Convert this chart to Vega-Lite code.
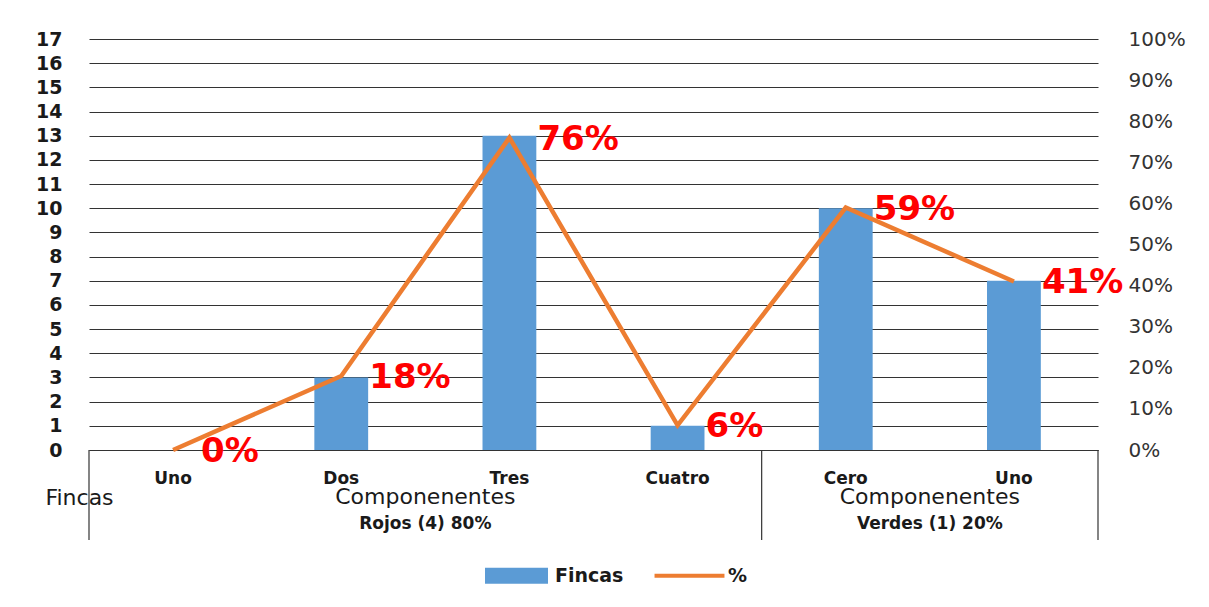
{
  "$schema": "https://vega.github.io/schema/vega-lite/v6.json",
  "width": 1009,
  "height": 411,
  "autosize": {"type": "none"},
  "padding": {"left": 89, "top": 39, "right": 111, "bottom": 157},
  "background": "white",
  "config": {"view": {"stroke": null}, "font": "DejaVu Sans"},
  "datasets": {
    "main": [
      {"cat": "1 Uno", "fincas": 0, "pct": 0},
      {"cat": "2 Dos", "fincas": 3, "pct": 0.18},
      {"cat": "3 Tres", "fincas": 13, "pct": 0.76},
      {"cat": "4 Cuatro", "fincas": 1, "pct": 0.06},
      {"cat": "5 Cero", "fincas": 10, "pct": 0.59},
      {"cat": "6 Uno", "fincas": 7, "pct": 0.41}
    ],
    "groups": [
      {"cat": "3 Tres", "t1": "Componenentes", "t2": "Rojos (4) 80%", "pct": -0.114, "p2": -0.18},
      {"cat": "6 Uno", "t1": "Componenentes", "t2": "Verdes (1) 20%", "pct": -0.114, "p2": -0.18}
    ],
    "divA": [
      {"cat": "1 Uno", "pct": 0, "p2": -0.219},
      {"cat": "5 Cero", "pct": 0, "p2": -0.219}
    ],
    "divB": [
      {"cat": "6 Uno", "pct": 0, "p2": -0.219}
    ]
  },
  "layer": [
    {
      "data": {"name": "main"},
      "mark": {"type": "bar", "width": {"band": 0.32}},
      "encoding": {
        "x": {
          "field": "cat", "type": "nominal",
          "scale": {"domain": ["1 Uno", "2 Dos", "3 Tres", "4 Cuatro", "5 Cero", "6 Uno"], "paddingInner": 0, "paddingOuter": 0},
          "axis": {
            "orient": "bottom", "title": null, "labelExpr": "split(datum.label,' ')[1]",
            "labelAngle": 0, "labelPadding": 20, "labelFontSize": 17, "labelFontWeight": "bold",
            "labelColor": "#1a1a1a", "ticks": false, "grid": false,
            "domainColor": "#333333", "domainWidth": 1.2
          }
        },
        "y": {
          "field": "fincas", "type": "quantitative",
          "scale": {"domain": [0, 17], "nice": false, "zero": false},
          "axis": {
            "orient": "left", "values": [0,1,2,3,4,5,6,7,8,9,10,11,12,13,14,15,16,17],
            "tickCount": 40, "format": "d",
            "labelOverlap": false,
            "grid": true, "gridColor": "#333333", "gridWidth": 1.2,
            "domain": false, "ticks": false, "labelPadding": 27,
            "labelFontSize": 19, "labelFontWeight": "bold", "labelColor": "#1a1a1a",
            "title": "Fincas", "titleAngle": 0, "titleX": -10, "titleY": 458,
            "titleAlign": "center", "titleBaseline": "middle", "titleFontSize": 22,
            "titleFontWeight": "normal", "titleColor": "#1a1a1a"
          }
        },
        "color": {
          "datum": "Fincas",
          "scale": {"domain": ["Fincas", "%"], "range": ["#5B9BD5", "#ED7D31"]},
          "legend": {
            "title": null, "orient": "none", "direction": "horizontal",
            "legendX": 396, "legendY": 505,
            "symbolSize": 3969, "symbolStrokeWidth": 0,
            "labelFontSize": 19, "labelFontWeight": "bold", "labelColor": "#1a1a1a",
            "labelOffset": 7, "columnPadding": 30,
            "encode": {
              "symbols": {
                "update": {
                  "shape": {"signal": "datum.value === 'Fincas' ? 'M-1,-0.254H1V0.254H-1Z' : 'M-1.11,-0.065H1.11V0.065H-1.11Z'"},
                  "fill": {"scale": "color", "field": "value"},
                  "strokeWidth": {"value": 0}
                }
              }
            }
          }
        }
      }
    },
    {
      "layer": [
        {
          "data": {"name": "main"},
          "mark": {"type": "line", "strokeWidth": 4.5},
          "encoding": {
            "x": {"field": "cat", "type": "nominal"},
            "y": {
              "field": "pct", "type": "quantitative",
              "scale": {"domain": [0, 1], "nice": false, "zero": false},
              "axis": {
                "orient": "right", "values": [0,0.1,0.2,0.3,0.4,0.5,0.6,0.7,0.8,0.9,1],
                "tickCount": 40,
                "labelOverlap": false,
                "format": ".0%", "grid": false, "domain": false, "ticks": false,
                "labelPadding": 30, "labelFontSize": 20, "labelColor": "#333333", "title": null
              }
            },
            "color": {"datum": "%"}
          }
        },
        {
          "data": {"name": "main"},
          "mark": {"type": "text", "align": "left", "baseline": "middle", "dx": 28, "dy": 2, "fontSize": 34, "fontWeight": "bold", "font": "DejaVu Sans", "color": "#FF0000"},
          "encoding": {
            "x": {"field": "cat", "type": "nominal"},
            "y": {"field": "pct", "type": "quantitative"},
            "text": {"field": "pct", "type": "quantitative", "format": ".0%"}
          }
        },
        {
          "data": {"name": "divA"},
          "mark": {"type": "rule", "color": "#333333", "strokeWidth": 1.2},
          "encoding": {
            "x": {"field": "cat", "type": "nominal", "bandPosition": 0},
            "y": {"field": "pct", "type": "quantitative"},
            "y2": {"field": "p2"}
          }
        },
        {
          "data": {"name": "divB"},
          "mark": {"type": "rule", "color": "#333333", "strokeWidth": 1.2},
          "encoding": {
            "x": {"field": "cat", "type": "nominal", "bandPosition": 1},
            "y": {"field": "pct", "type": "quantitative"},
            "y2": {"field": "p2"}
          }
        },
        {
          "data": {"name": "groups"},
          "mark": {"type": "text", "fontSize": 22, "font": "DejaVu Sans", "color": "#1a1a1a", "baseline": "middle", "align": "center"},
          "encoding": {
            "x": {"field": "cat", "type": "nominal", "bandPosition": 0},
            "y": {"field": "pct", "type": "quantitative"},
            "text": {"field": "t1"}
          }
        },
        {
          "data": {"name": "groups"},
          "mark": {"type": "text", "fontSize": 17, "fontWeight": "bold", "font": "DejaVu Sans", "color": "#1a1a1a", "baseline": "middle", "align": "center"},
          "encoding": {
            "x": {"field": "cat", "type": "nominal", "bandPosition": 0},
            "y": {"field": "p2", "type": "quantitative"},
            "text": {"field": "t2"}
          }
        }
      ]
    }
  ],
  "resolve": {"scale": {"y": "independent"}, "axis": {"y": "independent"}}
}
